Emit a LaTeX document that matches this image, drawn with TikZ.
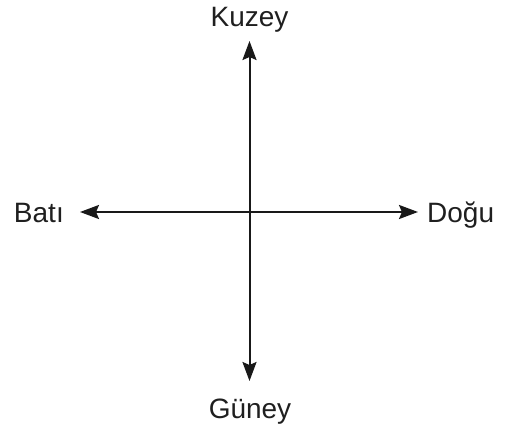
\documentclass[tikz,border=0pt]{standalone}
\usepackage{fontspec}
\setmainfont{Liberation Sans}
\usetikzlibrary{arrows.meta}
\begin{document}
\begin{tikzpicture}[x=1pt,y=-1pt,
  lbl/.style={inner sep=0pt,font=\fontsize{28}{28}\selectfont,text=black!88},
  tip/.style={Stealth[length=19pt,width=14pt,inset=3pt]},
  axis/.style={line width=2pt,black!90,{Stealth[length=19pt,width=14pt,inset=3pt]}-{Stealth[length=19pt,width=14pt,inset=3pt]}}]
\useasboundingbox (0,0) rectangle (515,431);
\coordinate (n) at (249.5,41);
\coordinate (s) at (249.5,381);
\coordinate (w) at (80,212);
\coordinate (e) at (418,212);
\node[lbl,anchor=base] (kuzey) at (249.5,27) {Kuzey};
\node[lbl,anchor=base] (guney) at (250,418) {Güney};
\node[lbl,anchor=base east] (bati) at (64,222) {Batı};
\node[lbl,anchor=base west] (dogu) at (427,222) {Doğu};
\draw[axis] (s) -- (n);
\draw[axis] (w) -- (e);
\end{tikzpicture}
\end{document}
